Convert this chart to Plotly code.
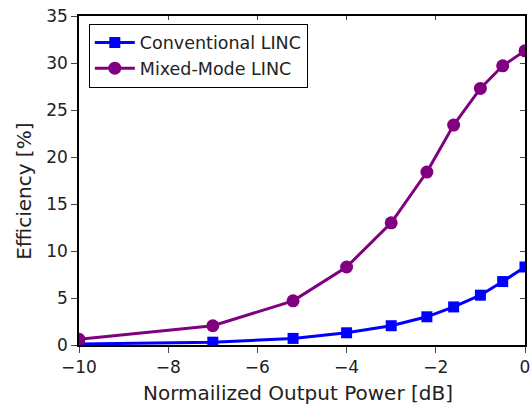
import plotly.graph_objects as go

x_pts = [-10, -7, -5.2, -4, -3, -2.2, -1.6, -1, -0.5, 0]
conventional = [0.1, 0.3, 0.7, 1.3, 2.05, 3.0, 4.05, 5.3, 6.75, 8.3]
mixed_mode = [0.6, 2.05, 4.7, 8.3, 13.0, 18.4, 23.4, 27.3, 29.7, 31.3]
x_ticks = [-10, -8, -6, -4, -2, 0]
y_ticks = [0, 5, 10, 15, 20, 25, 30, 35]
x_title = "Normailized Output Power [dB]"
y_title = "Efficiency [%]"

fig = go.Figure()
fig.add_trace(go.Scatter(x=x_pts, y=conventional, mode="lines+markers",
                         name="Conventional LINC",
                         line=dict(color="#0000ff", width=3),
                         marker=dict(symbol="square", size=11, color="#0000ff")))
fig.add_trace(go.Scatter(x=x_pts, y=mixed_mode, mode="lines+markers",
                         name="Mixed-Mode LINC",
                         line=dict(color="#800080", width=3),
                         marker=dict(symbol="circle", size=13, color="#800080")))

font = "DejaVu Sans"
fig.update_layout(
    width=531, height=410,
    margin=dict(l=79, r=6, t=16, b=65, autoexpand=False),
    plot_bgcolor="white", paper_bgcolor="white",
    font=dict(family=font, size=17, color="#222"),
    showlegend=True,
    legend=dict(x=0.022, y=0.977, xanchor="left", yanchor="top",
                bordercolor="black", borderwidth=1, bgcolor="white",
                font=dict(family=font, size=17.5), tracegroupgap=0, itemwidth=40),
    xaxis=dict(range=[-10, 0], tickvals=x_ticks, ticks="outside", ticklen=6,
               showline=True, linecolor="black", linewidth=1.5, mirror=True,
               showgrid=False, zeroline=False, automargin=False),
    yaxis=dict(range=[0, 35], tickvals=y_ticks, ticks="outside", ticklen=6,
               showline=True, linecolor="black", linewidth=1.5, mirror=True,
               showgrid=False, zeroline=False, automargin=False),
    xaxis2=dict(range=[-10, 0], tickvals=x_ticks, ticks="inside", ticklen=4,
                overlaying="x", side="top", showticklabels=False,
                showgrid=False, zeroline=False, showline=False),
    yaxis2=dict(range=[0, 35], tickvals=y_ticks, ticks="inside", ticklen=5,
                overlaying="y", side="right", showticklabels=False,
                showgrid=False, zeroline=False, showline=False),
    annotations=[
        dict(text=x_title, xref="paper", yref="paper", x=0.49, y=-0.146,
             xanchor="center", yanchor="middle", showarrow=False,
             font=dict(family=font, size=20, color="#222")),
        dict(text=y_title, xref="paper", yref="paper", x=-0.123, y=0.466,
             xanchor="center", yanchor="middle", showarrow=False, textangle=-90,
             font=dict(family=font, size=20, color="#222")),
    ],
)
fig.add_trace(go.Scatter(x=[None], y=[None], xaxis="x2", yaxis="y2",
                         showlegend=False, hoverinfo="skip"))
fig.write_html("out.html")
